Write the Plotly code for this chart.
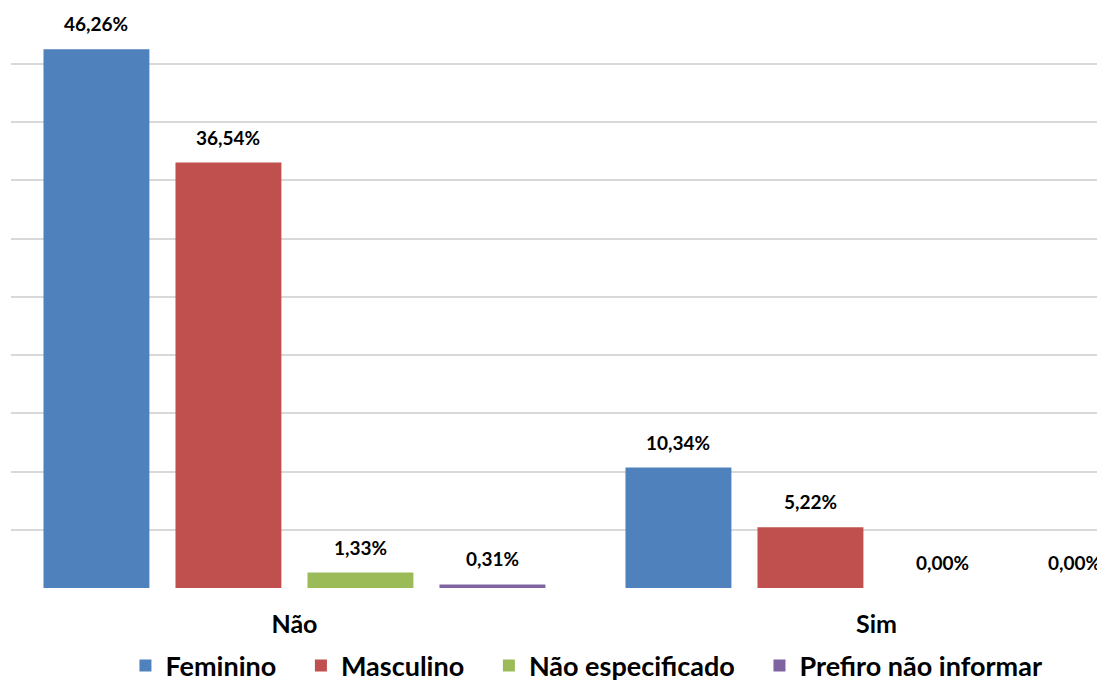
import plotly.graph_objects as go

# Data
categories = ['Não', 'Sim']
feminino = [46.26, 10.34]
masculino = [36.54, 5.22]
nao_especificado = [1.33, 0.00]
prefiro_nao = [0.31, 0.00]

series = [
    ('Feminino', feminino, '#4F81BD'),
    ('Masculino', masculino, '#C0504D'),
    ('Não especificado', nao_especificado, '#9BBB59'),
    ('Prefiro não informar', prefiro_nao, '#8064A2'),
]

FONT = 'Lato'
slot = 0.2268      # space per bar inside a category
bar_w = 0.182      # bar width in category units
pad = '\u00a0' * 3  # extra spacing between legend entries

fig = go.Figure()
annotations = []
for k, (name, vals, color) in enumerate(series):
    offset = -2 * slot + k * slot + (slot - bar_w) / 2
    fig.add_trace(go.Bar(
        x=[0, 1],
        y=vals,
        name=name + (pad if k < len(series) - 1 else ''),
        width=bar_w,
        offset=offset,
        marker=dict(color=color, line=dict(width=0)),
    ))
    for i, v in enumerate(vals):
        annotations.append(dict(
            x=i + offset + bar_w / 2, y=v,
            xref='x', yref='y',
            text=f'{v:.2f}%'.replace('.', ','),
            showarrow=False,
            yanchor='bottom', yshift=12,
            font=dict(family=FONT, size=19, color='black', weight='bold'),
        ))

fig.update_layout(
    width=1105, height=681,
    barmode='overlay',
    plot_bgcolor='white',
    paper_bgcolor='white',
    margin=dict(l=3, r=8, t=0, b=101, autoexpand=False),
    annotations=annotations,
    showlegend=True,
    legend=dict(
        orientation='h',
        x=0.526, xanchor='center',
        y=-0.092, yanchor='top',
        font=dict(family=FONT, size=27, color='black', weight='bold'),
        itemwidth=30,
        tracegroupgap=0,
    ),
    xaxis=dict(
        range=[-0.487, 1.3927],
        tickvals=[0, 1],
        ticktext=categories,
        showgrid=False,
        zeroline=False,
        showline=False,
        ticks='',
        ticklabelstandoff=19,
        tickfont=dict(family=FONT, size=25, color='black', weight='bold'),
    ),
    yaxis=dict(
        range=[0, 49.81],
        tickvals=[0, 5, 10, 15, 20, 25, 30, 35, 40, 45],
        showticklabels=False,
        showgrid=True,
        gridcolor='#D9D9D9',
        gridwidth=1.5,
        zeroline=False,
        showline=False,
    ),
)

fig.write_html('out.html')
